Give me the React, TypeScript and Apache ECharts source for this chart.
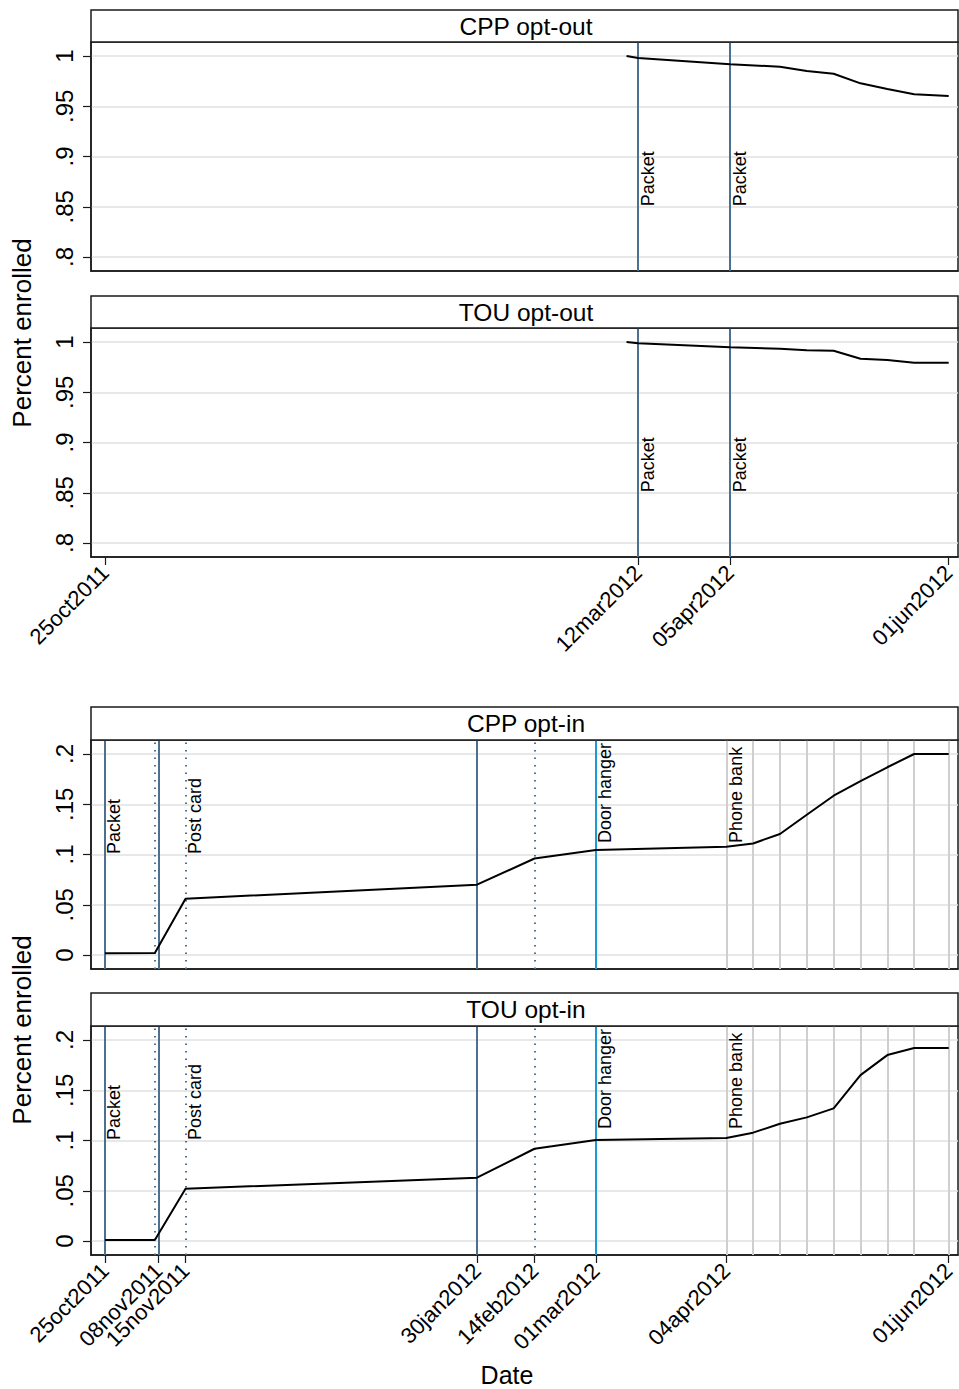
import React, { useEffect, useRef } from 'react';
import * as echarts from 'echarts';

const FONT = '"Liberation Sans", Arial, Helvetica, sans-serif';
const MONTHS = ['jan', 'feb', 'mar', 'apr', 'may', 'jun', 'jul', 'aug', 'sep', 'oct', 'nov', 'dec'];
const DAY = 86400000;
const toTs = (s: string) => Date.UTC(+s.slice(0, 4), +s.slice(5, 7) - 1, +s.slice(8, 10));

// ---------- data ----------
const panelTitles = ['CPP opt-out', 'TOU opt-out', 'CPP opt-in', 'TOU opt-in'];

const topTickDates = ['2011-10-25', '2012-03-12', '2012-04-05', '2012-06-01'];
const bottomTickDates = ['2011-10-25', '2011-11-08', '2011-11-15', '2012-01-30', '2012-02-14', '2012-03-01', '2012-04-04', '2012-06-01'];

const optOutTicks = [0.8, 0.85, 0.9, 0.95, 1];
const optInTicks = [0, 0.05, 0.1, 0.15, 0.2];

const optOutDates = ['2012-03-09', '2012-03-12', '2012-04-05', '2012-04-18', '2012-04-25', '2012-05-02', '2012-05-09', '2012-05-16', '2012-05-23', '2012-06-01'];
const cppOptOut = [1.0, 0.998, 0.9917, 0.9894, 0.985, 0.9824, 0.9728, 0.9672, 0.9619, 0.9602];
const touOptOut = [1.0, 0.9987, 0.9947, 0.9934, 0.9917, 0.9913, 0.9834, 0.982, 0.9794, 0.9794];

const optInDates = ['2011-10-25', '2011-11-07', '2011-11-15', '2012-01-30', '2012-02-14', '2012-03-01', '2012-04-04', '2012-04-11', '2012-04-18', '2012-04-25', '2012-05-02', '2012-05-09', '2012-05-16', '2012-05-23', '2012-06-01'];
const cppOptIn = [0.0017, 0.002, 0.056, 0.07, 0.096, 0.1045, 0.1078, 0.111, 0.1204, 0.1396, 0.1585, 0.1731, 0.1868, 0.2, 0.2];
const touOptIn = [0.001, 0.001, 0.052, 0.063, 0.0918, 0.1005, 0.1025, 0.1078, 0.1167, 0.123, 0.132, 0.165, 0.185, 0.192, 0.192];

// event lines
const optOutPacketDates = ['2012-03-12', '2012-04-05'];
const optInSolidDates = ['2011-10-25', '2011-11-08', '2012-01-30'];
const optInDottedDates = ['2011-11-07', '2011-11-15', '2012-02-14'];
const optInDoorDates = ['2012-03-01'];
const optInPhoneDates = ['2012-04-04', '2012-04-11', '2012-04-18', '2012-04-25', '2012-05-02', '2012-05-09', '2012-05-16', '2012-05-23', '2012-06-01'];

// event annotations
const optOutNoteDates = ['2012-03-12', '2012-04-05'];
const optOutNoteTexts = ['Packet', 'Packet'];
const optOutNoteY = [0.85, 0.85];
const optInNoteDates = ['2011-10-25', '2011-11-15', '2012-03-01', '2012-04-04'];
const optInNoteTexts = ['Packet', 'Post card', 'Door hanger', 'Phone bank'];
const optInNoteY = [0.1, 0.1, 0.111, 0.111];

// ---------- styles ----------
const DARK = '#4c7190';
const LIGHTBLUE = '#1b9bd6';
const GRAY = '#cfcfcf';

const fmtDate = (v: number) => {
  const d = new Date(v);
  const dd = String(d.getUTCDate()).padStart(2, '0');
  return `${dd}${MONTHS[d.getUTCMonth()]}${d.getUTCFullYear()}`;
};
const fmtY = (v: number) => {
  let s = String(+(+v).toFixed(3));
  if (s.startsWith('0.')) s = s.slice(1);
  return s;
};

export default function App() {
  const ref = useRef<HTMLDivElement>(null);
  useEffect(() => {
    const chart = echarts.init(ref.current!, null, { renderer: 'svg' });

    const xMin = toTs('2011-10-25') - 3.65 * DAY;
    const xMax = toTs('2012-06-01') + 2.43 * DAY;

    const gridTops = [42, 328, 740, 1026];
    const stripTops = [10, 296, 707, 993];
    const stripH = [32, 32, 33, 33];
    const L = 91;
    const W = 867;
    const H = 229;

    const grids = gridTops.map((t) => ({
      left: L, top: t, width: W, height: H,
      show: true, borderColor: '#1a1a1a', borderWidth: 1.5,
      backgroundColor: '#fff', containLabel: false, outerBoundsMode: 'none',
    }));

    const xAxes = gridTops.map((_, i) => {
      const showTicks = i === 1 || i === 3;
      const ticks = (i < 2 ? topTickDates : bottomTickDates).map(toTs);
      return {
        type: 'value', gridIndex: i, min: xMin, max: xMax, scale: true,
        axisLine: { show: true, onZero: false, lineStyle: { color: '#1a1a1a', width: 1.5 } },
        axisTick: showTicks
          ? { show: true, customValues: ticks, length: 8, lineStyle: { color: '#1a1a1a', width: 1.2 } }
          : { show: false },
        axisLabel: showTicks
          ? { show: true, customValues: ticks, rotate: 45, margin: 12, fontSize: 22, color: '#000', fontFamily: FONT, formatter: (v: number) => fmtDate(v), hideOverlap: false }
          : { show: false },
        splitLine: { show: false },
      };
    });

    const yAxes = gridTops.map((_, i) => {
      const ticks = i < 2 ? optOutTicks : optInTicks;
      const min = i < 2 ? 0.8 - 14 / 1005 : 0 - 14 / 1005;
      const max = i < 2 ? 1 + 14 / 1005 : 0.2 + 14 / 1005;
      return {
        type: 'value', gridIndex: i, min, max, splitNumber: 5,
        axisLine: { show: true, onZero: false, lineStyle: { color: '#1a1a1a', width: 1.5 } },
        axisTick: { show: true, customValues: ticks, length: 8, lineStyle: { color: '#1a1a1a', width: 1.2 } },
        axisLabel: { show: true, customValues: ticks, rotate: 90, margin: 15, fontSize: 24, color: '#000', fontFamily: FONT, formatter: (v: number) => fmtY(v) },
        splitLine: { show: true, lineStyle: { color: '#e0e0e0', width: 1.5 } },
      };
    });

    const vline = (d: string, color: string, type: any = 'solid') => ({
      xAxis: toTs(d),
      lineStyle: { color, width: 2, type, opacity: 1 },
    });

    const optOutLines = optOutPacketDates.map((d) => vline(d, DARK));
    const optInLines = [
      ...optInPhoneDates.map((d) => vline(d, GRAY)),
      ...optInDottedDates.map((d) => vline(d, DARK, [1.5, 6])),
      ...optInSolidDates.map((d) => vline(d, DARK)),
      ...optInDoorDates.map((d) => vline(d, LIGHTBLUE)),
    ];

    const noteSeries = (i: number) => {
      const isOut = i < 2;
      const dates = isOut ? optOutNoteDates : optInNoteDates;
      const texts = isOut ? optOutNoteTexts : optInNoteTexts;
      const ys = isOut ? optOutNoteY : optInNoteY;
      return {
        type: 'scatter', xAxisIndex: i, yAxisIndex: i, silent: true, z: 3,
        symbolSize: 1,
        itemStyle: { color: 'rgba(0,0,0,0)' },
        data: dates.map((d, k) => [toTs(d), ys[k], texts[k]]),
        label: {
          show: true, formatter: (p: any) => p.value[2], rotate: 90,
          position: [1, 0], align: 'left', verticalAlign: 'top',
          fontSize: 18, color: '#000', opacity: 1, fontFamily: FONT,
        },
        markLine: {
          silent: true, symbol: ['none', 'none'], animation: false,
          label: { show: false },
          data: isOut ? optOutLines : optInLines,
        },
      };
    };

    const lineSeries = (i: number, dates: string[], vals: number[]) => ({
      type: 'line', xAxisIndex: i, yAxisIndex: i, z: 5, silent: true,
      showSymbol: false, symbol: 'none',
      lineStyle: { color: '#000', width: 2 },
      data: dates.map((d, k) => [toTs(d), vals[k]]),
    });

    const graphic: any[] = [];
    stripTops.forEach((t, i) => {
      graphic.push({
        type: 'rect', shape: { x: L, y: t, width: W, height: stripH[i] },
        style: { fill: '#fff', stroke: '#1a1a1a', lineWidth: 1.5 }, z: 10,
      });
      graphic.push({
        type: 'text', x: 526, y: t + stripH[i] / 2, z: 11,
        style: { text: panelTitles[i], fontSize: 24.5, fontFamily: FONT, fill: '#000', textAlign: 'center', textVerticalAlign: 'middle' },
      });
    });
    [333, 1030].forEach((cy) => {
      graphic.push({
        type: 'text', x: 22, y: cy, rotation: Math.PI / 2, z: 11,
        style: { text: 'Percent enrolled', fontSize: 26, fontFamily: FONT, fill: '#000', textAlign: 'center', textVerticalAlign: 'middle' },
      });
    });
    graphic.push({
      type: 'text', x: 507, y: 1375, z: 11,
      style: { text: 'Date', fontSize: 25, fontFamily: FONT, fill: '#000', textAlign: 'center', textVerticalAlign: 'middle' },
    });

    chart.setOption({
      animation: false,
      backgroundColor: '#fff',
      textStyle: { fontFamily: FONT },
      grid: grids,
      xAxis: xAxes,
      yAxis: yAxes,
      series: [
        noteSeries(0), noteSeries(1), noteSeries(2), noteSeries(3),
        lineSeries(0, optOutDates, cppOptOut),
        lineSeries(1, optOutDates, touOptOut),
        lineSeries(2, optInDates, cppOptIn),
        lineSeries(3, optInDates, touOptIn),
      ],
      graphic,
    } as any);

    return () => chart.dispose();
  }, []);

  return (
    <div
      ref={ref}
      style={{ position: 'absolute', left: 0, top: 0, width: 959, height: 1389, background: '#fff' }}
    />
  );
}
